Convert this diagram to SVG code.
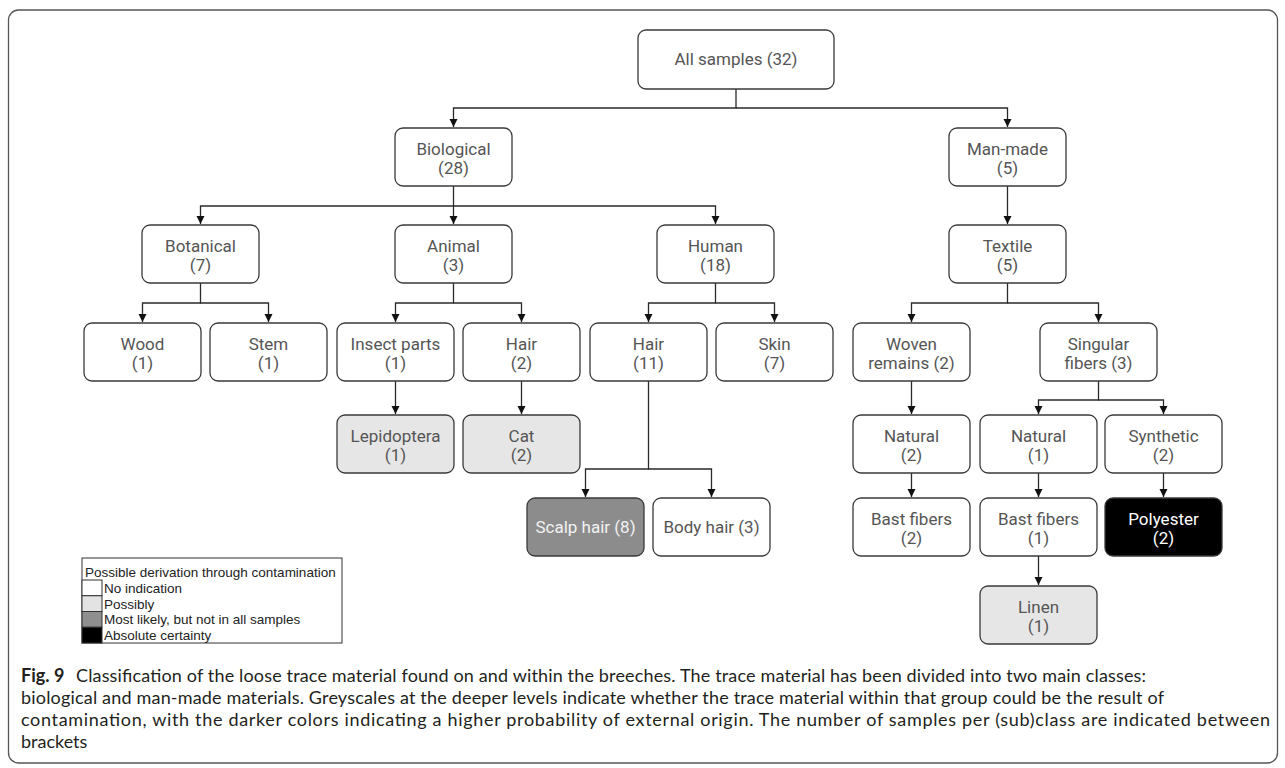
<svg xmlns="http://www.w3.org/2000/svg" width="1285" height="768" viewBox="0 0 1285 768">
<style>
.node rect{fill:#fff;stroke:#3a3a3a;stroke-width:1.3}
.node text{font-family:Roboto,"Noto Sans",sans-serif;font-size:17px;fill:#555;text-anchor:middle}
.light rect{fill:#e6e6e6}
.mid rect{fill:#8c8c8c}
.mid text{fill:#f2f2f2}
.dark rect{fill:#000}
.dark text{fill:#fff}
#connectors path{fill:none;stroke:#2a2a2a;stroke-width:1.3}
.leg{font-family:"Liberation Sans",Arial,sans-serif;font-size:13.5px;fill:#222}
.cap{font-family:Lato,"Open Sans",sans-serif;font-size:18px;fill:#231f20}
</style>
<defs>
<marker id="arr" markerUnits="userSpaceOnUse" markerWidth="10" markerHeight="10" refX="8" refY="4" orient="auto">
<path d="M0,0 L8,4 L0,8 Z" fill="#111"/>
</marker>
</defs>
<rect x="8.5" y="10" width="1269" height="753" rx="10" fill="#fff" stroke="#555" stroke-width="1.3"/>
<g id="connectors">
<path d="M736,89 V108 H453.5 V127" marker-end="url(#arr)"/>
<path d="M736,108 H1007.5 V127" marker-end="url(#arr)"/>
<path d="M453.5,186 V206 H200.5 V224" marker-end="url(#arr)"/>
<path d="M453.5,206 V224" marker-end="url(#arr)"/>
<path d="M453.5,206 H715.5 V224" marker-end="url(#arr)"/>
<path d="M1007.5,186 V224" marker-end="url(#arr)"/>
<path d="M200.5,283 V303 H142.5 V322" marker-end="url(#arr)"/>
<path d="M200.5,303 H268.5 V322" marker-end="url(#arr)"/>
<path d="M453.5,283 V303 H395.5 V322" marker-end="url(#arr)"/>
<path d="M453.5,303 H521.5 V322" marker-end="url(#arr)"/>
<path d="M715.5,283 V303 H648.5 V322" marker-end="url(#arr)"/>
<path d="M715.5,303 H774.5 V322" marker-end="url(#arr)"/>
<path d="M1007.5,283 V303 H911.5 V322" marker-end="url(#arr)"/>
<path d="M1007.5,303 H1098.5 V322" marker-end="url(#arr)"/>
<path d="M395.5,381 V414" marker-end="url(#arr)"/>
<path d="M521.5,381 V414" marker-end="url(#arr)"/>
<path d="M648.5,381 V469 H585.5 V497" marker-end="url(#arr)"/>
<path d="M648.5,469 H711.5 V497" marker-end="url(#arr)"/>
<path d="M911.5,381 V414" marker-end="url(#arr)"/>
<path d="M1098.5,381 V400 H1038.5 V414" marker-end="url(#arr)"/>
<path d="M1098.5,400 H1163.5 V414" marker-end="url(#arr)"/>
<path d="M911.5,473 V497" marker-end="url(#arr)"/>
<path d="M1038.5,473 V497" marker-end="url(#arr)"/>
<path d="M1163.5,473 V497" marker-end="url(#arr)"/>
<path d="M1038.5,556 V585" marker-end="url(#arr)"/>
</g>
<g id="all" class="node"><rect x="638" y="30" width="196" height="59" rx="8"/><text x="736" y="65">All samples (32)</text></g>
<g id="biological" class="node"><rect x="395" y="128" width="117" height="58" rx="8"/><text x="453.5" y="155">Biological</text><text x="453.5" y="174">(28)</text></g>
<g id="manmade" class="node"><rect x="949" y="128" width="117" height="58" rx="8"/><text x="1007.5" y="155">Man-made</text><text x="1007.5" y="174">(5)</text></g>
<g id="botanical" class="node"><rect x="142" y="225" width="117" height="58" rx="8"/><text x="200.5" y="252">Botanical</text><text x="200.5" y="271">(7)</text></g>
<g id="animal" class="node"><rect x="395" y="225" width="117" height="58" rx="8"/><text x="453.5" y="252">Animal</text><text x="453.5" y="271">(3)</text></g>
<g id="human" class="node"><rect x="657" y="225" width="117" height="58" rx="8"/><text x="715.5" y="252">Human</text><text x="715.5" y="271">(18)</text></g>
<g id="textile" class="node"><rect x="949" y="225" width="117" height="58" rx="8"/><text x="1007.5" y="252">Textile</text><text x="1007.5" y="271">(5)</text></g>
<g id="wood" class="node"><rect x="84" y="323" width="117" height="58" rx="8"/><text x="142.5" y="350">Wood</text><text x="142.5" y="369">(1)</text></g>
<g id="stem" class="node"><rect x="210" y="323" width="117" height="58" rx="8"/><text x="268.5" y="350">Stem</text><text x="268.5" y="369">(1)</text></g>
<g id="insect" class="node"><rect x="337" y="323" width="117" height="58" rx="8"/><text x="395.5" y="350">Insect parts</text><text x="395.5" y="369">(1)</text></g>
<g id="animalhair" class="node"><rect x="463" y="323" width="117" height="58" rx="8"/><text x="521.5" y="350">Hair</text><text x="521.5" y="369">(2)</text></g>
<g id="humanhair" class="node"><rect x="590" y="323" width="117" height="58" rx="8"/><text x="648.5" y="350">Hair</text><text x="648.5" y="369">(11)</text></g>
<g id="skin" class="node"><rect x="716" y="323" width="117" height="58" rx="8"/><text x="774.5" y="350">Skin</text><text x="774.5" y="369">(7)</text></g>
<g id="woven" class="node"><rect x="853" y="323" width="117" height="58" rx="8"/><text x="911.5" y="350">Woven</text><text x="911.5" y="369">remains (2)</text></g>
<g id="singular" class="node"><rect x="1040" y="323" width="117" height="58" rx="8"/><text x="1098.5" y="350">Singular</text><text x="1098.5" y="369">fibers (3)</text></g>
<g id="lepidoptera" class="node light"><rect x="337" y="415" width="117" height="58" rx="8"/><text x="395.5" y="442">Lepidoptera</text><text x="395.5" y="461">(1)</text></g>
<g id="cat" class="node light"><rect x="463" y="415" width="117" height="58" rx="8"/><text x="521.5" y="442">Cat</text><text x="521.5" y="461">(2)</text></g>
<g id="natural2" class="node"><rect x="853" y="415" width="117" height="58" rx="8"/><text x="911.5" y="442">Natural</text><text x="911.5" y="461">(2)</text></g>
<g id="natural1" class="node"><rect x="980" y="415" width="117" height="58" rx="8"/><text x="1038.5" y="442">Natural</text><text x="1038.5" y="461">(1)</text></g>
<g id="synthetic" class="node"><rect x="1105" y="415" width="117" height="58" rx="8"/><text x="1163.5" y="442">Synthetic</text><text x="1163.5" y="461">(2)</text></g>
<g id="scalp" class="node mid"><rect x="527" y="498" width="117" height="58" rx="8"/><text x="585.5" y="533">Scalp hair (8)</text></g>
<g id="body" class="node"><rect x="653" y="498" width="117" height="58" rx="8"/><text x="711.5" y="533">Body hair (3)</text></g>
<g id="bast2" class="node"><rect x="853" y="498" width="117" height="58" rx="8"/><text x="911.5" y="525">Bast fibers</text><text x="911.5" y="544">(2)</text></g>
<g id="bast1" class="node"><rect x="980" y="498" width="117" height="58" rx="8"/><text x="1038.5" y="525">Bast fibers</text><text x="1038.5" y="544">(1)</text></g>
<g id="polyester" class="node dark"><rect x="1105" y="498" width="117" height="58" rx="8"/><text x="1163.5" y="525">Polyester</text><text x="1163.5" y="544">(2)</text></g>
<g id="linen" class="node light"><rect x="980" y="586" width="117" height="58" rx="8"/><text x="1038.5" y="613">Linen</text><text x="1038.5" y="632">(1)</text></g>
<g id="legend">
<rect x="82" y="558" width="260" height="85" fill="#fff" stroke="#333" stroke-width="1"/>
<text class="leg" x="85" y="577">Possible derivation through contamination</text>
<rect x="82" y="580" width="20" height="15.75" fill="#fff" stroke="#333" stroke-width="1"/>
<rect x="82" y="595.75" width="20" height="15.75" fill="#e3e3e3" stroke="#333" stroke-width="1"/>
<rect x="82" y="611.5" width="20" height="15.75" fill="#8f8f8f" stroke="#333" stroke-width="1"/>
<rect x="82" y="627.25" width="20" height="15.75" fill="#000" stroke="#333" stroke-width="1"/>
<text class="leg" x="104" y="593">No indication</text>
<text class="leg" x="104" y="608.5">Possibly</text>
<text class="leg" x="104" y="624">Most likely, but not in all samples</text>
<text class="leg" x="104" y="640">Absolute certainty</text>
</g>
<g id="caption">
<text class="cap" x="21" y="682" font-weight="bold">Fig. 9</text>
<text class="cap" x="76" y="682" textLength="1070" lengthAdjust="spacing">Classification of the loose trace material found on and within the breeches. The trace material has been divided into two main classes:</text>
<text class="cap" x="21" y="704" textLength="1143" lengthAdjust="spacing">biological and man-made materials. Greyscales at the deeper levels indicate whether the trace material within that group could be the result of</text>
<text class="cap" x="21" y="726" textLength="1249" lengthAdjust="spacing">contamination, with the darker colors indicating a higher probability of external origin. The number of samples per (sub)class are indicated between</text>
<text class="cap" x="21" y="748">brackets</text>
</g>
</svg>
